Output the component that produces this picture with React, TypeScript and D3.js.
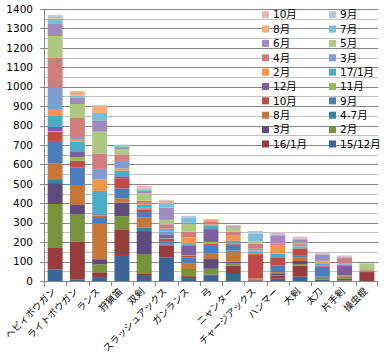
import React from "react";
import * as d3 from "d3";

const categories = ["ヘビィボウガン", "ライトボウガン", "ランス", "狩猟笛", "双剣", "スラッシュアックス", "ガンランス", "弓", "ニャンター", "チャージアックス", "ハンマー", "大剣", "太刀", "片手剣", "操虫棍"];

const seriesNames = ["15/12月", "16/1月", "2月", "3月", "4-7月", "8月", "9月", "10月", "11月", "12月", "17/1月", "2月", "3月", "4月", "5月", "6月", "7月", "8月", "9月", "10月"];

const s1512 = [60, 7, 20, 134, 26, 122, 15, 30, 36, 2, 12, 22, 6, 3, 0];
const s1601 = [110, 197, 25, 132, 10, 62, 10, 3, 43, 5, 14, 57, 0, 10, 46];
const s1602 = [226, 141, 41, 68, 103, 3, 33, 30, 12, 3, 4, 8, 12, 9, 0];
const s1603 = [108, 46, 26, 70, 118, 3, 4, 50, 8, 0, 6, 16, 4, 0, 3];
const s1604 = [16, 0, 0, 0, 19, 0, 0, 0, 0, 0, 0, 0, 0, 0, 0];
const s1608 = [86, 103, 185, 22, 50, 5, 30, 27, 57, 4, 10, 17, 0, 7, 0];
const s1609 = [115, 91, 32, 50, 29, 10, 30, 41, 29, 0, 33, 10, 52, 0, 0];
const s1610 = [47, 34, 5, 53, 14, 12, 8, 10, 4, 124, 43, 35, 5, 0, 0];
const s1611 = [4, 19, 5, 0, 4, 3, 2, 10, 0, 4, 0, 3, 0, 0, 0];
const s1612 = [21, 26, 5, 10, 5, 20, 52, 66, 4, 3, 0, 3, 0, 48, 0];
const s1701 = [60, 53, 120, 29, 14, 12, 6, 20, 14, 8, 20, 6, 9, 8, 0];
const s1702 = [32, 10, 58, 12, 8, 4, 35, 5, 26, 4, 40, 0, 10, 0, 0];
const s1703 = [112, 14, 55, 38, 0, 14, 0, 4, 0, 10, 0, 4, 0, 5, 0];
const s1704 = [151, 98, 79, 34, 13, 22, 29, 8, 21, 26, 10, 9, 0, 28, 7];
const s1705 = [113, 72, 113, 26, 38, 23, 39, 0, 22, 12, 0, 9, 6, 3, 32];
const s1706 = [62, 32, 55, 11, 12, 63, 8, 4, 6, 0, 40, 16, 32, 3, 0];
const s1707 = [27, 11, 41, 5, 5, 19, 25, 0, 0, 40, 8, 0, 0, 0, 0];
const s1708 = [9, 19, 37, 5, 5, 18, 0, 6, 4, 0, 0, 0, 0, 0, 0];
const s1709 = [5, 5, 4, 3, 8, 3, 9, 5, 2, 12, 8, 5, 3, 7, 4];
const s1710 = [5, 0, 0, 0, 8, 0, 0, 0, 0, 0, 4, 8, 6, 0, 0];

const seriesValues = [s1512, s1601, s1602, s1603, s1604, s1608, s1609, s1610, s1611, s1612, s1701, s1702, s1703, s1704, s1705, s1706, s1707, s1708, s1709, s1710];

const colors = ["#3B6498", "#963C3A", "#77933C", "#5F4A7E", "#378498", "#C67636", "#4A7DBA", "#BE4B48", "#98B954", "#7D5FA0", "#4BACC6", "#F59645", "#7E9ECF", "#D07E7C", "#ADC97F", "#A08BBD", "#7ABFD3", "#FAAA77", "#B7C5E0", "#E5B9B7"];

const yTicks = [0, 100, 200, 300, 400, 500, 600, 700, 800, 900, 1000, 1100, 1200, 1300, 1400];

const W = 388, H = 357;
const L = 44, R = 378, T = 9, B = 281;

export default function App() {
  const x = d3.scaleBand<string>().domain(categories).range([L, R]).paddingInner(0.33).paddingOuter(0.165);
  const xb = d3.scaleBand<string>().domain(categories).range([L, R]);
  const y = d3.scaleLinear().domain([0, 1400]).range([B, T]);
  const keys = seriesValues.map((_, i) => "k" + i);
  const rows = categories.map((c, ci) => {
    const o: any = { cat: c };
    seriesValues.forEach((s, si) => (o["k" + si] = s[ci]));
    return o;
  });
  const stacked = d3.stack<any>().keys(keys)(rows);
  const minor = d3.range(50, 1400, 100);
  const font = "'DejaVu Sans', 'Noto Sans CJK JP', sans-serif";

  const legendItems = seriesNames.map((n, i) => ({ n, i })).reverse();

  return (
    <svg width={W} height={H} style={{ position: "absolute", left: 0, top: 0, background: "#fff" }} fontFamily={font}>
      <rect x={0} y={0} width={W} height={H} fill="#fff" />
      {minor.map((v) => (
        <line key={"m" + v} x1={L} x2={R} y1={Math.round(y(v)) + 0.5} y2={Math.round(y(v)) + 0.5} stroke="#C0C0C0" strokeWidth={1} />
      ))}
      {yTicks.slice(1).map((v) => (
        <line key={"g" + v} x1={L - 4} x2={R} y1={Math.round(y(v)) + 0.5} y2={Math.round(y(v)) + 0.5} stroke="#868686" strokeWidth={1} />
      ))}
      {stacked.map((layer, si) => (
        <g key={si} fill={colors[si]}>
          {layer.map((d, ci) => {
            const h = y(d[0]) - y(d[1]);
            if (h <= 0) return null;
            return <rect key={ci} x={x(categories[ci])} y={y(d[1])} width={x.bandwidth()} height={h} />;
          })}
        </g>
      ))}
      <line x1={L + 0.5} x2={L + 0.5} y1={T} y2={B} stroke="#868686" />
      <line x1={L} x2={R} y1={B + 0.5} y2={B + 0.5} stroke="#868686" />
      {categories.map((c, i) => (
        <line key={"t" + i} x1={Math.round(xb(c)!) + 0.5} x2={Math.round(xb(c)!) + 0.5} y1={B} y2={B + 5} stroke="#868686" />
      ))}
      <line x1={R - 0.5} x2={R - 0.5} y1={B} y2={B + 5} stroke="#868686" />
      <line x1={L - 4} x2={L} y1={B + 0.5} y2={B + 0.5} stroke="#868686" />
      {yTicks.map((v) => (
        <text key={"yl" + v} x={33} y={y(v)} dy="0.36em" textAnchor="end" fontSize={10.5} fill="#000">
          {v}
        </text>
      ))}
      {categories.map((c) => {
        const cx = x(c)! + x.bandwidth() / 2 + 1;
        const cy = B + 11;
        return (
          <text key={"xl" + c} transform={`translate(${cx},${cy}) rotate(-45)`} textAnchor="end" fontSize={9.5} fontFamily="'Noto Sans CJK JP', sans-serif" fill="#000">
            {c}
          </text>
        );
      })}
      {legendItems.map((it, k) => {
        const col = k % 2;
        const row = Math.floor(k / 2);
        const lx = col === 0 ? 262 : 329;
        const ly = 14.7 + row * 14.36;
        return (
          <g key={"lg" + k}>
            <rect x={lx} y={ly - 3.5} width={7} height={7} fill={colors[it.i]} />
            <text x={lx + 11} y={ly} dy="0.36em" fontSize={10.5} fill="#000">
              {it.n}
            </text>
          </g>
        );
      })}
    </svg>
  );
}
